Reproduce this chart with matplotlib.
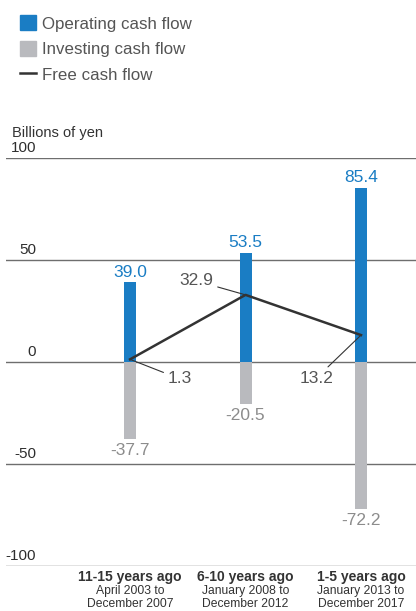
import matplotlib.pyplot as plt
from matplotlib.patches import Patch
from matplotlib.lines import Line2D

periods = ["11-15 years ago", "6-10 years ago", "1-5 years ago"]
period_dates = ["April 2003 to\nDecember 2007",
                "January 2008 to\nDecember 2012",
                "January 2013 to\nDecember 2017"]
operating = [39.0, 53.5, 85.4]
investing = [-37.7, -20.5, -72.2]
free_cf = [1.3, 32.9, 13.2]
yticks = [100, 50, 0, -50, -100]

BLUE = "#1a7dc4"
GRAY = "#b9babe"
DARK = "#333333"
TXT = "#555555"

plt.rcParams['font.family'] = ['Liberation Sans', 'DejaVu Sans']

fig = plt.figure(figsize=(4.16, 6.11), dpi=100)
ax = fig.add_axes([6 / 416, 45 / 611, 410 / 416, 408 / 611])
ax.set_xlim(-1.074, 2.476)
ax.set_ylim(-100, 100)
ax.axis('off')

x = list(range(len(periods)))
w = 0.104

# grid lines with tick labels sitting above them (right aligned)
for t in yticks:
    ax.axhline(t, color="#6e6e6e", lw=1.0, zorder=1)
    ax.annotate(str(t), xy=(30 / 410, t), xycoords=('axes fraction', 'data'),
                xytext=(0, 2), textcoords='offset points',
                ha='right', va='bottom', fontsize=11, color="#2e2e2e")
ax.annotate("Billions of yen", xy=(0, 100), xycoords=('axes fraction', 'data'),
            xytext=(4, 13), textcoords='offset points',
            ha='left', va='bottom', fontsize=10.5, color="#333333")

ax.bar(x, operating, width=w, color=BLUE, zorder=2)
ax.bar(x, investing, width=w, color=GRAY, zorder=2)
ax.plot(x, free_cf, color=DARK, lw=1.8, zorder=3)

for xi, v in zip(x, operating):
    ax.annotate(f"{v:.1f}", xy=(xi, v), xytext=(0, 2), textcoords='offset points',
                ha='center', va='bottom', fontsize=12.5, color=BLUE)
for xi, v in zip(x, investing):
    ax.annotate(f"{v:.1f}", xy=(xi, v), xytext=(0, -3), textcoords='offset points',
                ha='center', va='top', fontsize=12.5, color="#8c8c8c")

# free cash flow labels with leader lines
fcf_offsets = [(27, -14), (-23, 10), (-20, -31)]
fcf_ha = ['left', 'right', 'right']
for xi, v, off, ha in zip(x, free_cf, fcf_offsets, fcf_ha):
    ax.annotate(f"{v:.1f}", xy=(xi, v), xytext=off, textcoords='offset points',
                ha=ha, va='center', fontsize=12.5, color=TXT,
                arrowprops=dict(arrowstyle='-', color=DARK, lw=0.8,
                                shrinkA=1, shrinkB=0))

for xi, p, d in zip(x, periods, period_dates):
    ax.annotate(p, xy=(xi, 0), xycoords=('data', 'axes fraction'),
                xytext=(0, -8), textcoords='offset points',
                ha='center', va='center', fontsize=10, fontweight='bold',
                color="#333333")
    ax.annotate(d, xy=(xi, 0), xycoords=('data', 'axes fraction'),
                xytext=(0, -14), textcoords='offset points',
                ha='center', va='top', fontsize=8.7, color="#333333",
                linespacing=1.1)

handles = [Patch(color=BLUE), Patch(color=GRAY),
           Line2D([], [], color=DARK, lw=1.8)]
fig.legend(handles, ["Operating cash flow", "Investing cash flow", "Free cash flow"],
           loc='upper left', bbox_to_anchor=(0.012, 1.0), frameon=False,
           fontsize=12.2, labelcolor=TXT, handlelength=0.95, handleheight=1.0,
           handletextpad=0.35, labelspacing=0.55)

fig.savefig("out.png", dpi=100)
